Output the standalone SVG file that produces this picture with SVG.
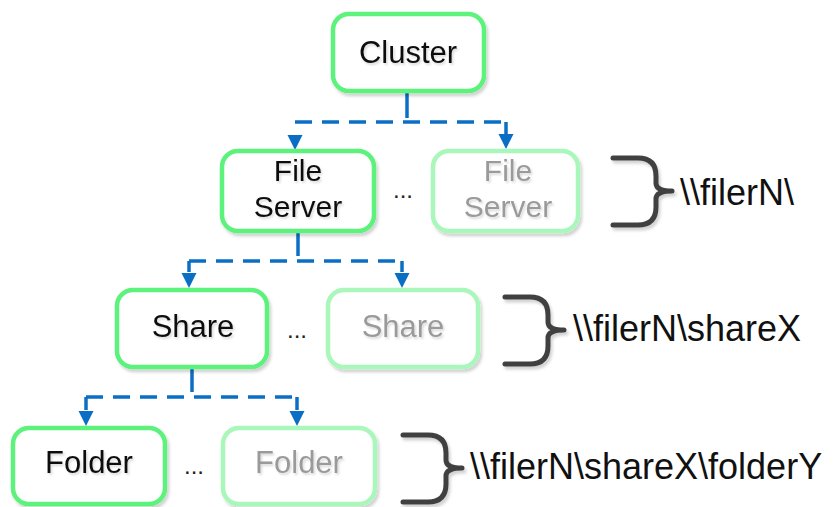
<svg xmlns="http://www.w3.org/2000/svg" width="839" height="507" viewBox="0 0 839 507">
  <style>
    .box { fill: #ffffff; stroke: #5cf27c; stroke-width: 4.5; filter: url(#sh); }
    .box.faded { stroke: #a9f7bb; }
    .t { font-family: "Liberation Sans", Arial, sans-serif; font-size: 31px; fill: #111111; text-anchor: middle; filter: url(#tsh); }
    .t2 { font-size: 30px; }
    .t.faded { fill: #9a9a9a; }
    .dots { font-family: "Liberation Sans", Arial, sans-serif; font-size: 24px; fill: #222222; text-anchor: middle; }
    .lbl { font-family: "Liberation Sans", Arial, sans-serif; font-size: 36px; fill: #111111; }
    .solid { fill: none; stroke: #0a6fc4; stroke-width: 3.5; }
    .dash { fill: none; stroke: #0a6fc4; stroke-width: 3.5; stroke-dasharray: 17 10; }
    .arrow { fill: #0a6fc4; }
    .brace { fill: none; stroke: #404040; stroke-width: 5; stroke-linecap: round; stroke-linejoin: round; filter: url(#sh); }
  </style>
  <defs>
    <filter id="sh" x="-20%" y="-20%" width="140%" height="140%">
      <feDropShadow dx="2" dy="3" stdDeviation="1.5" flood-color="#000000" flood-opacity="0.18"/>
    </filter>
    <filter id="tsh" x="-10%" y="-20%" width="120%" height="140%">
      <feDropShadow dx="1.5" dy="2" stdDeviation="0.8" flood-color="#000000" flood-opacity="0.15"/>
    </filter>
    <path id="ah" d="M-7.5,-15 L7.5,-15 L0,0 Z"/>
    <path id="br" d="M0,0 H25 Q43,0 43,18 V25 Q43,33 59,33 Q43,33 43,41 V49 Q43,67 25,67 H0"/>
  </defs>

  <g id="connectors">
    <path class="solid" d="M407,92 V118"/>
    <path class="dash" d="M295,122 H506"/>
    <path class="solid" d="M506,122 V134"/>
    <use href="#ah" class="arrow" x="295" y="150"/>
    <use href="#ah" class="arrow" x="506" y="149"/>

    <path class="solid" d="M298,232 V256"/>
    <path class="dash" d="M189,261 H402"/>
    <path class="solid" d="M189,261 V272"/>
    <path class="solid" d="M402,261 V272"/>
    <use href="#ah" class="arrow" x="189" y="288"/>
    <use href="#ah" class="arrow" x="402" y="288"/>

    <path class="solid" d="M192,368 V392"/>
    <path class="dash" d="M86,397 H297"/>
    <path class="solid" d="M86,397 V410"/>
    <path class="solid" d="M297,397 V410"/>
    <use href="#ah" class="arrow" x="86" y="426"/>
    <use href="#ah" class="arrow" x="297" y="426"/>
  </g>

  <g id="cluster">
    <rect class="box" x="333" y="14" width="151" height="77" rx="16"/>
    <text class="t" x="408" y="63">Cluster</text>
  </g>

  <g id="fileserver1">
    <rect class="box" x="222" y="151" width="152" height="80" rx="16"/>
    <text class="t t2" x="298" y="181">File</text>
    <text class="t t2" x="298" y="217">Server</text>
  </g>
  <g id="fileserver-dots"><text class="dots" x="403" y="198">...</text></g>
  <g id="fileserver2">
    <rect class="box faded" x="433" y="151" width="145" height="80" rx="16"/>
    <text class="t t2 faded" x="508" y="181">File</text>
    <text class="t t2 faded" x="508" y="217">Server</text>
  </g>

  <g id="share1">
    <rect class="box" x="117" y="290" width="150" height="77" rx="16"/>
    <text class="t" x="193" y="337">Share</text>
  </g>
  <g id="share-dots"><text class="dots" x="297" y="338">...</text></g>
  <g id="share2">
    <rect class="box faded" x="328" y="290" width="150" height="77" rx="16"/>
    <text class="t faded" x="403" y="337">Share</text>
  </g>

  <g id="folder1">
    <rect class="box" x="13" y="428" width="152" height="76" rx="16"/>
    <text class="t" x="89" y="473">Folder</text>
  </g>
  <g id="folder-dots"><text class="dots" x="194" y="474">...</text></g>
  <g id="folder2">
    <rect class="box faded" x="223" y="428" width="152" height="76" rx="16"/>
    <text class="t faded" x="299" y="473">Folder</text>
  </g>

  <g id="label-filer">
    <use href="#br" class="brace" transform="translate(613,158)"/>
    <text class="lbl" x="680" y="205">\\filerN\</text>
  </g>
  <g id="label-share">
    <use href="#br" class="brace" transform="translate(505,297)"/>
    <text class="lbl" x="573" y="341">\\filerN\shareX</text>
  </g>
  <g id="label-folder">
    <use href="#br" class="brace" transform="translate(403,435)"/>
    <text class="lbl" x="470" y="479">\\filerN\shareX\folderY</text>
  </g>
</svg>
